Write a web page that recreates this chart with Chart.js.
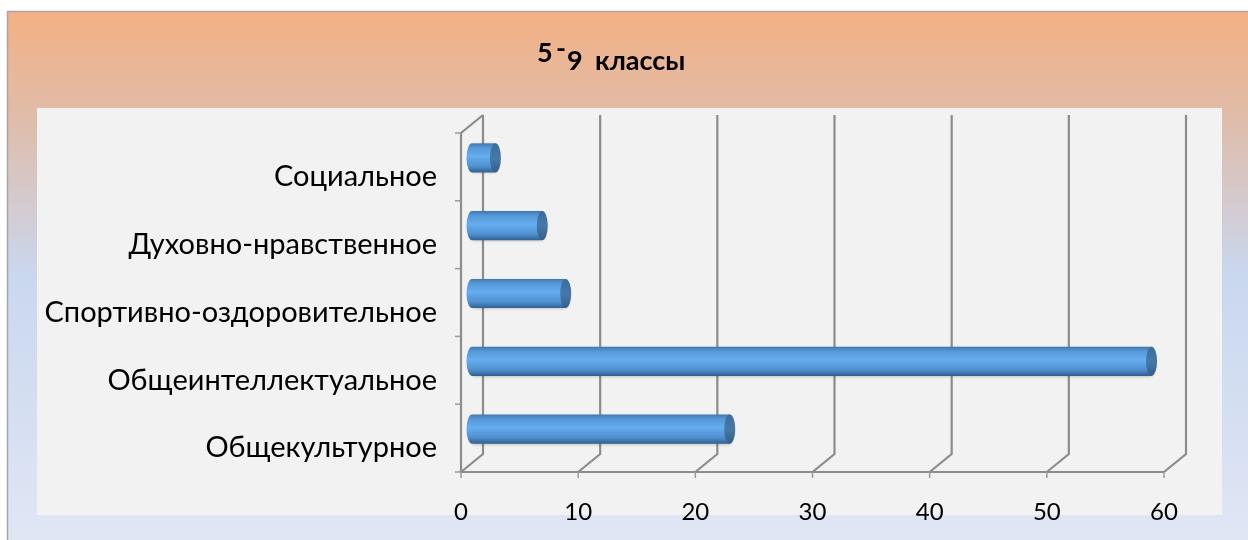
<!DOCTYPE html>
<html><head><meta charset="utf-8">
<script src="https://cdn.jsdelivr.net/npm/chart.js@4/dist/chart.umd.min.js"></script>
<style>html,body{margin:0;padding:0;background:#fff;}#wrap{width:1248px;height:540px;}</style>
</head><body><div id="wrap"><canvas id="c" width="1248" height="540"></canvas></div>
<script>
// Data (top-to-bottom order as shown)
const categories = ['Социальное', 'Духовно-нравственное', 'Спортивно-оздоровительное', 'Общеинтеллектуальное', 'Общекультурное'];
const values = [2, 6, 8, 58, 22];
const xMin = 0;
const xMax = 60;
const xStep = 10;
const titleText = ['5', '-', '9', 'классы'];

const DX = 22, DY = -18;           // 3D depth of the back wall
const BX = DX / 2, BY = DY / 2;    // bars sit at mid depth
const FONT = 'Lato, "Open Sans", sans-serif';
const GRID = '#8c8c8c';

function barGradient(ctx, y, h) {
  if (!isFinite(y) || !isFinite(h) || h <= 0) return '#5b9bd5';
  const g = ctx.createLinearGradient(0, y - h / 2, 0, y + h / 2);
  g.addColorStop(0, '#3f78b3');
  g.addColorStop(0.15, '#5697d6');
  g.addColorStop(0.45, '#65aef0');
  g.addColorStop(0.8, '#4f8ecd');
  g.addColorStop(1, '#305f91');
  return g;
}

const bgPlugin = {
  id: 'bg3d',
  beforeDraw(chart) {
    const ctx = chart.ctx;
    const xs = chart.scales.x, ys = chart.scales.y;
    const ca = chart.chartArea;
    ctx.save();
    ctx.fillStyle = '#ffffff';
    ctx.fillRect(0, 0, chart.width, chart.height);
    const g = ctx.createLinearGradient(0, 11, 0, 540);
    g.addColorStop(0, '#f4b083');
    g.addColorStop(0.2, '#e0bca9');
    g.addColorStop(0.5, '#c9d7ef');
    g.addColorStop(1, '#e0e6f4');
    ctx.fillStyle = g;
    ctx.fillRect(7, 11, chart.width - 7, chart.height - 11);
    ctx.strokeStyle = '#a6a6a6';
    ctx.lineWidth = 1.5;
    ctx.beginPath();
    ctx.moveTo(7.5, chart.height); ctx.lineTo(7.5, 11.5); ctx.lineTo(chart.width, 11.5);
    ctx.stroke();
    ctx.fillStyle = '#f2f2f2';
    ctx.fillRect(37, 108, 1185, 407);

    ctx.strokeStyle = GRID;
    ctx.lineWidth = 2.2;
    xs.ticks.forEach(t => {
      const x = xs.getPixelForValue(t.value);
      ctx.beginPath();
      ctx.moveTo(x + DX, ca.top + DY);
      ctx.lineTo(x + DX, ca.bottom + DY);
      ctx.lineTo(x, ca.bottom);
      ctx.stroke();
    });
    const x0 = xs.getPixelForValue(xMin);
    const x1 = xs.getPixelForValue(xMax);
    ctx.beginPath();
    ctx.moveTo(x0 + DX, ca.top + DY);
    ctx.lineTo(x0, ca.top);
    ctx.lineTo(x0, ca.bottom);
    ctx.lineTo(x1, ca.bottom);
    ctx.stroke();
    ctx.lineWidth = 1.5;
    ctx.strokeStyle = '#9a9a9a';
    xs.ticks.forEach(t => {
      const x = xs.getPixelForValue(t.value);
      ctx.beginPath(); ctx.moveTo(x, ca.bottom); ctx.lineTo(x, ca.bottom + 6); ctx.stroke();
    });
    const n = categories.length;
    const band = (ca.bottom - ca.top) / n;
    for (let i = 0; i <= n; i++) {
      const y = ca.top + i * band;
      ctx.beginPath(); ctx.moveTo(x0 - 6, y); ctx.lineTo(x0, y); ctx.stroke();
    }

    ctx.fillStyle = '#000';
    ctx.font = '24px ' + FONT;
    ctx.textAlign = 'center';
    ctx.textBaseline = 'middle';
    xs.ticks.forEach(t => {
      ctx.fillText(String(t.value), xs.getPixelForValue(t.value), 512);
    });
    ctx.font = '29px ' + FONT;
    ctx.textAlign = 'right';
    categories.forEach((c, i) => {
      ctx.fillText(c, 437, ys.getPixelForValue(i) + 10);
    });
    ctx.font = 'bold 27px ' + FONT;
    ctx.textAlign = 'left';
    ctx.textBaseline = 'alphabetic';
    ctx.fillText(titleText[0], 537, 62);
    ctx.fillText(titleText[1], 556, 58);
    ctx.fillText(titleText[2], 567, 70);
    ctx.fillText(titleText[3], 595, 70);
    ctx.restore();
  },
  beforeDatasetsDraw(chart) {
    const ctx = chart.ctx;
    ctx.save();
    ctx.translate(BX, BY);
    ctx.shadowColor = 'rgba(0,0,0,0.25)';
    ctx.shadowBlur = 3;
    ctx.shadowOffsetY = 1;
  },
  afterDatasetsDraw(chart) {
    const ctx = chart.ctx;
    ctx.shadowColor = 'transparent';
    const meta = chart.getDatasetMeta(0);
    meta.data.forEach(el => {
      const h = el.height, ry = h / 2, rx = 5.5;
      ctx.fillStyle = barGradient(ctx, el.y, h);
      ctx.beginPath();
      ctx.ellipse(el.base, el.y, rx, ry, 0, Math.PI / 2, Math.PI * 1.5);
      ctx.fill();
      const cg = ctx.createLinearGradient(0, el.y - ry, 0, el.y + ry);
      cg.addColorStop(0, '#3a6c9c');
      cg.addColorStop(0.5, '#4679aa');
      cg.addColorStop(1, '#345f8a');
      ctx.fillStyle = cg;
      ctx.beginPath();
      ctx.ellipse(el.x, el.y, rx, ry, 0, 0, Math.PI * 2);
      ctx.fill();
    });
    ctx.restore();
  }
};

const BAR_FRAC = 0.43;

new Chart(document.getElementById('c'), {
  type: 'bar',
  data: {
    labels: categories,
    datasets: [{
      data: values,
      barPercentage: BAR_FRAC,
      categoryPercentage: 1,
      borderWidth: 0,
      backgroundColor: (c) => {
        const chart = c.chart;
        const ys = chart.scales.y;
        if (!ys || c.dataIndex === undefined) return '#5b9bd5';
        const band = (ys.bottom - ys.top) / categories.length;
        return barGradient(chart.ctx, ys.getPixelForValue(c.dataIndex), band * BAR_FRAC);
      }
    }]
  },
  options: {
    indexAxis: 'y',
    responsive: false,
    animation: false,
    events: [],
    layout: { padding: { left: 461, right: 84, top: 133, bottom: 68 } },
    plugins: { legend: { display: false }, title: { display: false }, tooltip: { enabled: false } },
    scales: {
      x: { display: false, min: xMin, max: xMax, ticks: { stepSize: xStep } },
      y: { display: false, offset: true }
    }
  },
  plugins: [bgPlugin]
});
</script>
</body></html>
